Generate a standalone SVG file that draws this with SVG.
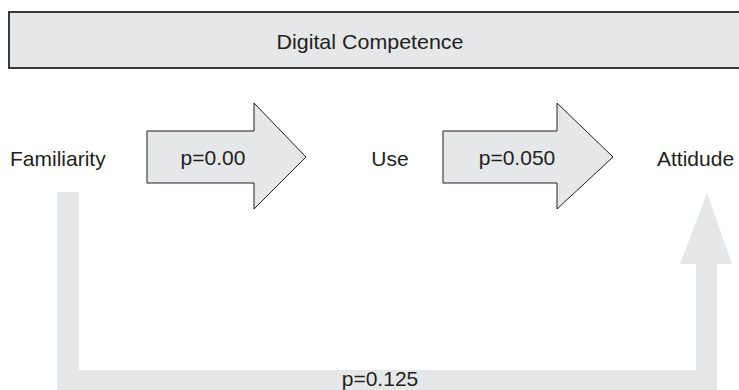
<svg xmlns="http://www.w3.org/2000/svg" width="739" height="390" viewBox="0 0 739 390">
  <style>
    .lbl { font-family: "Liberation Sans", Arial, sans-serif; font-size: 21px; fill: #231f20; }
    .box { fill: #e6e7e8; stroke: #3a3a3a; stroke-width: 2; }
    .block { fill: #e6e7e8; stroke: #231f20; stroke-width: 1; }
    .band { fill: #e6e7e8; stroke: none; }
  </style>
  <rect width="739" height="390" fill="#ffffff"/>

  <!-- header bar -->
  <g id="competence">
    <rect class="box" x="9" y="12" width="740" height="56"/>
    <text class="lbl" x="370" y="49" text-anchor="middle" textLength="187" lengthAdjust="spacingAndGlyphs">Digital Competence</text>
  </g>

  <!-- concepts -->
  <g id="familiarity">
    <text class="lbl" x="10" y="166">Familiarity</text>
  </g>
  <g id="use">
    <text class="lbl" x="390" y="166" text-anchor="middle">Use</text>
  </g>
  <g id="attitude">
    <text class="lbl" x="657" y="166">Attidude</text>
  </g>

  <!-- relations between the concepts -->
  <g id="connectors">
    <g id="familiarity-use">
      <polygon class="block" points="147,131 254,131 254,103 306,157 254,209 254,183 147,183"/>
      <text class="lbl" x="213" y="165" text-anchor="middle">p=0.00</text>
    </g>
    <g id="use-attitude">
      <polygon class="block" points="443,131 557,131 557,103 613,157 557,209 557,183 443,183"/>
      <text class="lbl" x="517" y="165" text-anchor="middle">p=0.050</text>
    </g>
    <g id="familiarity-attitude">
      <path class="band" d="M57,192 L79,192 L79,370 L696,370 L696,264 L680,264 L707,193 L732,264 L717,264 L717,390 L57,390 Z"/>
      <text class="lbl" x="380" y="386" text-anchor="middle">p=0.125</text>
    </g>
  </g>
</svg>
